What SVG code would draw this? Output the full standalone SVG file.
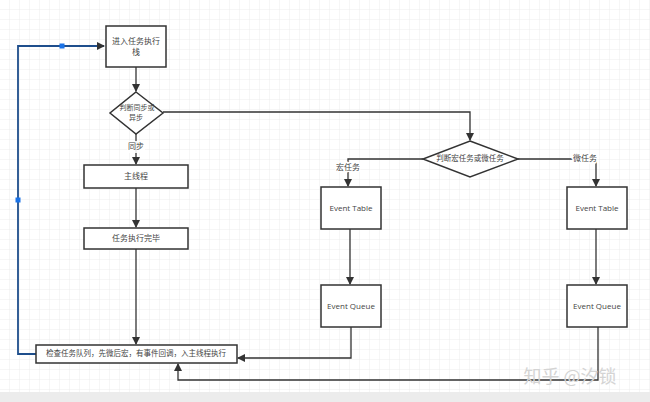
<svg xmlns="http://www.w3.org/2000/svg" width="650" height="402" viewBox="0 0 650 402">
<defs>
<pattern id="g" width="10" height="10" patternUnits="userSpaceOnUse"><path d="M10 0V10H0" fill="none" stroke="#ececec" stroke-width="1"/></pattern>
<marker id="a" markerWidth="8" markerHeight="8" refX="7" refY="4" orient="auto" markerUnits="userSpaceOnUse"><path d="M0 0L8 4L0 8Z" fill="#333"/></marker>
<style>
.n{fill:#fff;stroke:#333;stroke-width:1.5}
.t{font-family:"Noto Sans CJK SC","Liberation Sans",sans-serif;font-size:8px;fill:#444;text-anchor:middle;dominant-baseline:middle}
.e{font-family:"Open Sans","Liberation Sans",sans-serif;font-size:8px;fill:#444;text-anchor:middle;dominant-baseline:middle}
.c{fill:none;stroke:#333;stroke-width:1.3}
</style>
</defs>
<rect width="650" height="402" fill="#fff"/>
<rect width="650" height="392" fill="url(#g)"/>
<rect y="392" width="650" height="10" fill="#ececec"/>
<g id="connectors">
<path d="M36 354H18V46H104" fill="none" stroke="#1e4e8c" stroke-width="1.8" marker-end="url(#a)"/>
<rect x="59.5" y="43.5" width="5" height="5" fill="#1a73e8"/>
<rect x="15.5" y="197.5" width="5" height="5" fill="#1a73e8"/>
<path class="c" d="M136 67V91" marker-end="url(#a)"/>
<path class="c" d="M136 134V164" marker-end="url(#a)"/>
<rect x="127" y="141" width="18" height="12" fill="#fff" opacity="0.9"/>
<text class="t" x="136" y="147">同步</text>
<path class="c" d="M136 188V227" marker-end="url(#a)"/>
<path class="c" d="M136 249V344" marker-end="url(#a)"/>
<path class="c" d="M163 112H470V140" marker-end="url(#a)"/>
<path class="c" d="M423 159H348V186" marker-end="url(#a)"/>
<text class="t" x="348" y="168" style="paint-order:stroke;stroke:#fff;stroke-width:3">宏任务</text>
<path class="c" d="M518 159H596V186" marker-end="url(#a)"/>
<text class="t" x="585" y="159" style="paint-order:stroke;stroke:#fff;stroke-width:3">微任务</text>
<path class="c" d="M350 229V284" marker-end="url(#a)"/>
<path class="c" d="M596 229V284" marker-end="url(#a)"/>
<path class="c" d="M351 327V358H238" marker-end="url(#a)"/>
<path class="c" d="M598 327V380H178V364" marker-end="url(#a)"/>
</g>
<g id="n1"><rect class="n" x="106" y="26" width="60" height="41"/><text class="t" x="136" y="42">进入任务执行</text><text class="t" x="136" y="53">栈</text></g>
<g id="n2"><path class="n" d="M136 92L163 113L136 134L110 113Z"/><text class="t" x="137" y="108" style="font-size:7px">判断同步或</text><text class="t" x="136" y="118" style="font-size:7px">异步</text></g>
<g id="n3"><rect class="n" x="84" y="165" width="104" height="23"/><text class="t" x="136" y="177">主线程</text></g>
<g id="n4"><rect class="n" x="84" y="228" width="104" height="21"/><text class="t" x="136" y="239">任务执行完毕</text></g>
<g id="n5"><rect class="n" x="36" y="345" width="201" height="18"/><text class="t" x="136" y="354" style="font-size:7.5px">检查任务队列，先微后宏，有事件回调，入主线程执行</text></g>
<g id="n6"><path class="n" d="M470 141L518 159L470 177L423 159Z"/><text class="t" x="470" y="159" style="font-size:7.5px">判断宏任务或微任务</text></g>
<g id="n7"><rect class="n" x="321" y="187" width="60" height="42"/><text class="e" x="351" y="209">Event Table</text></g>
<g id="n8"><rect class="n" x="567" y="187" width="60" height="42"/><text class="e" x="597" y="209">Event Table</text></g>
<g id="n9"><rect class="n" x="321" y="285" width="60" height="42"/><text class="e" x="351" y="307">Event Queue</text></g>
<g id="n10"><rect class="n" x="567" y="285" width="60" height="42"/><text class="e" x="597" y="307">Event Queue</text></g>
<text x="570" y="383" font-family="Noto Sans CJK SC,sans-serif" font-size="18" fill="#d4d4d4" text-anchor="middle">知乎 @汐锁</text>
</svg>
